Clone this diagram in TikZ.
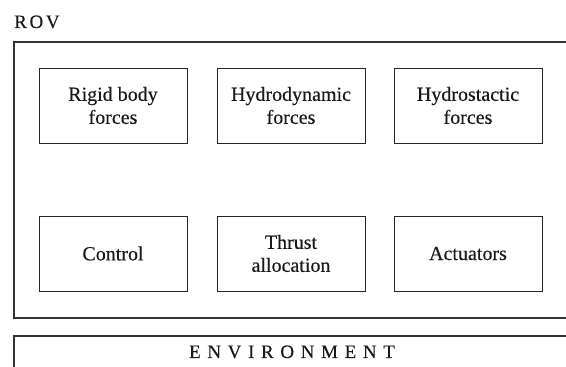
\documentclass[tikz,border=0pt]{standalone}
\usepackage{fontspec}
\setmainfont{Liberation Serif}[FakeBold=0.3]
\newfontfamily\spacedfont[LetterSpace=35,FakeBold=0.2]{Liberation Serif}
\newfontfamily\rovfont[LetterSpace=14,FakeBold=0.2]{Liberation Serif}
\begin{document}
\begin{tikzpicture}[x=1pt,y=1pt,
  blockbox/.style={draw=black!85,line width=0.8pt,minimum width=148pt,minimum height=75pt,
    inner sep=0pt,align=center,font=\fontsize{20}{23}\selectfont,text=black!90},
  outerline/.style={draw=black!80,line width=1.4pt},
  titletext/.style={font=\spacedfont\fontsize{19}{21}\selectfont,text=black!90,inner sep=0pt}]
\useasboundingbox (0,0) rectangle (566,367);
\draw[outerline] (567,325) -- (14,325) -- (14,49) -- (567,49);
\draw[outerline] (567,31) -- (14,31) -- (14,-2);
\node[titletext,font=\rovfont\fontsize{19}{21}\selectfont,anchor=base west] (rov) at (14,339) {ROV};
\node[titletext,anchor=base] (env) at (292,9) {ENVIRONMENT};
\node[blockbox] (rigid) at (113,261.5) {Rigid body\\forces};
\node[blockbox] (hydrodyn) at (291,261.5) {Hydrodynamic\\forces};
\node[blockbox] (hydrostat) at (468,261.5) {Hydrostactic\\forces};
\node[blockbox] (control) at (113,113.5) {Control};
\node[blockbox] (thrust) at (291,113.5) {Thrust\\allocation};
\node[blockbox] (act) at (468,113.5) {Actuators};
\end{tikzpicture}
\end{document}
